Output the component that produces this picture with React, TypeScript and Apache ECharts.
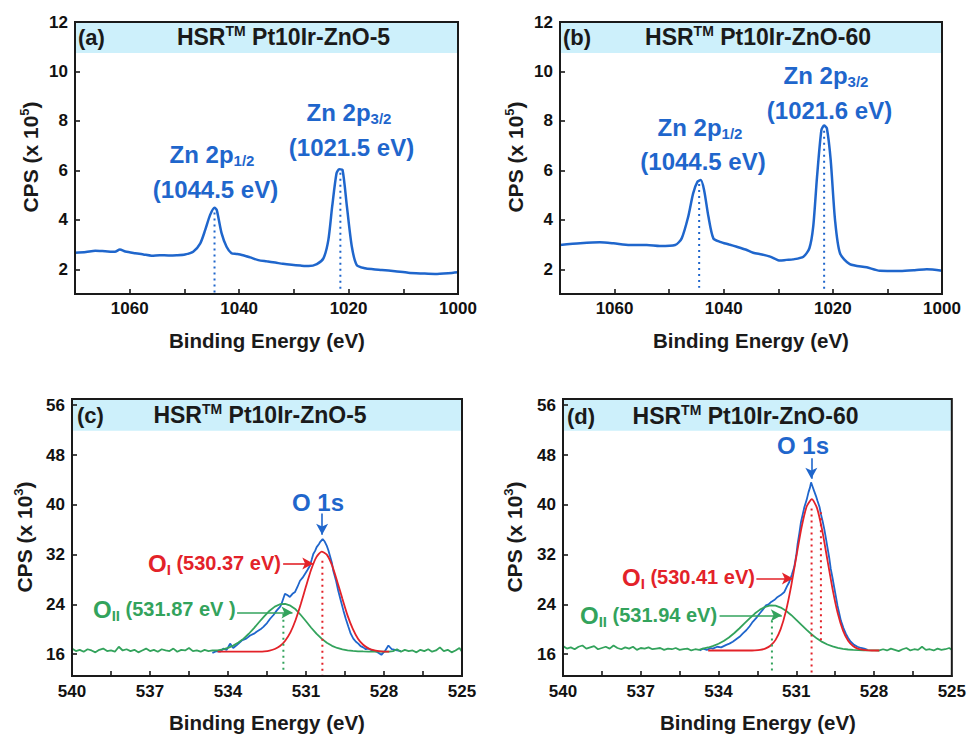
import React, { useEffect, useRef } from 'react';
import * as echarts from 'echarts';

const FONT = "'Liberation Sans', Arial, Helvetica, sans-serif";
const BLUE = '#1f66cc';
const RED = '#e32229';
const GREEN = '#33a35c';
const BAND = '#cdf0fb';
const INK = '#1a1a1a';

// ---------- tick values ----------
const ZN_X_TICKS = [1010, 1020, 1030, 1040, 1050, 1060];
const ZN_X_LABELS = [1000, 1020, 1040, 1060];
const ZN_Y_TICKS = [2, 4, 6, 8, 10, 12];
const O_X_TICKS = [526.5, 528, 529.5, 531, 532.5, 534, 535.5, 537, 538.5];
const O_X_LABELS = [525, 528, 531, 534, 537, 540];
const O_Y_TICKS = [16, 24, 32, 40, 48, 56];

// ---------- panel (a) Zn 2p, Pt10Ir-ZnO-5 : [eV, CPS x1e5] ----------
const A_DATA = [
  [1070, 2.67], [1068, 2.7], [1066.3, 2.75], [1064.5, 2.73], [1062.7, 2.71], [1061.8, 2.8], [1060.8, 2.72],
  [1059, 2.65], [1057.5, 2.6], [1056, 2.55], [1054.5, 2.57], [1052.9, 2.56], [1051.4, 2.57], [1049.9, 2.6],
  [1048.4, 2.71], [1047.1, 3.05], [1046.2, 3.59], [1045.3, 4.2], [1044.5, 4.49], [1044.1, 4.4], [1043.2, 3.45],
  [1042.3, 2.91], [1041.4, 2.65], [1040.5, 2.62], [1039.5, 2.58], [1038, 2.48], [1036.5, 2.37], [1035, 2.32],
  [1033.4, 2.27], [1032, 2.22], [1030.4, 2.18], [1028.8, 2.15], [1027.3, 2.13], [1025.8, 2.21], [1024.6, 2.44],
  [1023.7, 3.18], [1023.0, 4.53], [1022.2, 5.88], [1021.7, 6.05], [1021.1, 6.01], [1020.3, 4.53], [1019.4, 2.91],
  [1018.5, 2.17], [1017, 2.04], [1015.5, 2.0], [1013.9, 1.97], [1011.5, 1.92], [1009.1, 1.86], [1006.5, 1.83],
  [1004.2, 1.81], [1001.8, 1.84], [1000, 1.88],
];
const A_PEAK_LINES = [
  [[1044.5, 4.3], [1044.5, 1.05]],
  [[1021.5, 5.9], [1021.5, 1.05]],
];

// ---------- panel (b) Zn 2p, Pt10Ir-ZnO-60 ----------
const B_DATA = [
  [1070, 2.98], [1066.3, 3.05], [1062.7, 3.09], [1060.2, 3.05], [1057.2, 2.98], [1054.1, 2.98], [1051.7, 2.94],
  [1048.9, 2.98], [1047.7, 3.25], [1046.5, 4.13], [1045.6, 5.07], [1044.8, 5.54], [1044.2, 5.61], [1043.6, 5.21],
  [1042.8, 4.13], [1041.9, 3.25], [1040.7, 3.11], [1039, 3.0], [1037.6, 2.91], [1036, 2.8], [1034.6, 2.67],
  [1033, 2.6], [1031.5, 2.51], [1029.7, 2.35], [1028.5, 2.38], [1027.3, 2.4], [1025.4, 2.51], [1024.3, 2.85],
  [1023.6, 3.72], [1022.9, 5.74], [1022.1, 7.63], [1021.6, 7.81], [1021.1, 7.7], [1020.4, 6.42], [1019.6, 3.99],
  [1018.7, 2.65], [1016.9, 2.21], [1013.8, 2.08], [1011.4, 1.94], [1007.7, 1.93], [1005, 1.96], [1002.8, 2.0],
  [1000, 1.94],
];
const B_PEAK_LINES = [
  [[1044.5, 5.45], [1044.5, 1.25]],
  [[1021.6, 7.6], [1021.6, 1.05]],
];

// ---------- O 1s energy grids ----------
const NOISE_L_E = [
  540.0, 539.85, 539.7, 539.55, 539.4, 539.25, 539.1, 538.95, 538.8, 538.65, 538.5, 538.35, 538.2, 538.05,
  537.9, 537.75, 537.6, 537.45, 537.3, 537.15, 537.0, 536.85, 536.7, 536.55, 536.4, 536.25, 536.1, 535.95,
  535.8, 535.65, 535.5, 535.35, 535.2, 535.05, 534.9, 534.75, 534.6,
];
const FIT_E = [
  534.4, 534.2, 534.0, 533.8, 533.6, 533.4, 533.2, 533.0, 532.8, 532.6, 532.4, 532.2, 532.0, 531.8, 531.6,
  531.4, 531.2, 531.0, 530.8, 530.6, 530.4, 530.2, 530.0, 529.8, 529.6, 529.4, 529.2, 529.0, 528.8, 528.6,
  528.4, 528.2, 528.0, 527.8,
];
const NOISE_R_E = [
  527.65, 527.5, 527.35, 527.2, 527.05, 526.9, 526.75, 526.6, 526.45, 526.3, 526.15, 526.0, 525.85, 525.7,
  525.55, 525.4, 525.25, 525.1, 525.0,
];

// ---------- panel (c) O 1s, Pt10Ir-ZnO-5 : CPS x1e3 ----------
const C_GREEN_L = [
  16.9, 16.5, 16.7, 16.4, 16.8, 16.6, 16.3, 16.7, 16.9, 16.5, 16.6, 16.4, 17.2, 16.6, 16.8, 16.5, 16.7, 16.3,
  16.6, 16.9, 16.5, 16.7, 16.4, 16.8, 16.6, 16.5, 16.9, 16.4, 16.7, 16.6, 17.0, 16.5, 16.6, 16.4, 16.7, 16.5, 16.6,
];
const C_GREEN_FIT = [
  16.62, 16.78, 17.02, 17.38, 17.87, 18.5, 19.29, 20.2, 21.17, 22.13, 22.99, 23.65, 24.03, 24.08, 23.8,
  23.22, 22.3, 21.3, 20.25, 19.3, 18.5, 17.85, 17.35, 17.0, 16.78, 16.63, 16.53, 16.47, 16.44, 16.42,
  16.4, 16.4, 16.4, 16.4,
];
const C_GREEN_R = [
  16.5, 16.8, 16.4, 16.7, 16.5, 16.6, 16.3, 16.7, 16.5, 16.8, 16.4, 16.6, 17.1, 16.5, 16.7, 16.3, 16.6, 17.0, 16.4,
];
const C_RED_FIT = [
  16.4, 16.4, 16.4, 16.4, 16.4, 16.4, 16.4, 16.41, 16.42, 16.47, 16.59, 16.83, 17.31, 18.17, 19.5,
  21.5, 24.05, 26.9, 29.6, 31.6, 32.48, 32.0, 30.3, 27.7, 24.9, 22.2, 20.07, 18.5, 17.52, 16.94,
  16.64, 16.5, 16.43, 16.4,
];
const C_BLUE = [
  [534.6, 16.2], [534.45, 16.5], [534.3, 16.4], [534.18, 16.9], [534.05, 16.7], [533.92, 17.7], [533.8, 17.0],
  [533.65, 17.5], [533.47, 18.2], [533.3, 18.5], [533.15, 19.0], [533.0, 19.3], [532.9, 19.6], [532.75, 20.0],
  [532.64, 20.4], [532.5, 21.0], [532.38, 21.7], [532.25, 22.3], [532.13, 23.0], [532.0, 23.6], [531.94, 24.1],
  [531.81, 25.7], [531.72, 25.5], [531.62, 25.2], [531.52, 25.7], [531.42, 26.0], [531.33, 26.8], [531.23, 27.8],
  [531.13, 28.3], [531.04, 28.9], [530.95, 29.5], [530.85, 30.2], [530.78, 31.2], [530.72, 32.1], [530.65, 32.6],
  [530.59, 33.2], [530.5, 33.7], [530.46, 34.0], [530.36, 34.5], [530.28, 34.1], [530.2, 33.4], [530.14, 32.7],
  [530.08, 31.8], [530.0, 30.6], [529.95, 29.4], [529.85, 27.9], [529.76, 26.2], [529.66, 24.6], [529.56, 23.0],
  [529.47, 21.7], [529.37, 20.4], [529.28, 19.3], [529.18, 18.5], [529.08, 18.0], [528.99, 17.7], [528.9, 17.3],
  [528.8, 17.1], [528.7, 16.8], [528.6, 16.9], [528.45, 16.6], [528.28, 16.4], [528.1, 15.9], [527.95, 16.6],
  [527.83, 17.4], [527.7, 16.8], [527.5, 16.6], [527.35, 16.5],
];
const C_RED_DOT = [[530.37, 31.0], [530.37, 12.6]];
const C_GREEN_DOT = [[531.87, 22.5], [531.87, 13.1]];

// ---------- panel (d) O 1s, Pt10Ir-ZnO-60 ----------
const D_GREEN_L = [
  17.3, 16.9, 17.1, 16.8, 17.2, 17.4, 16.9, 17.1, 17.3, 16.8, 17.0, 17.2, 16.9, 17.4, 17.0, 16.8, 17.1, 16.9,
  17.2, 16.7, 17.0, 16.9, 17.1, 16.8, 16.9, 17.0, 16.7, 16.9, 16.8, 17.0, 16.7, 16.8, 16.9, 16.6, 16.8, 16.7, 16.9,
];
const D_GREEN_FIT = [
  17.08, 17.33, 17.68, 18.13, 18.69, 19.37, 20.13, 20.95, 21.77, 22.53, 23.16, 23.61, 23.83, 23.79, 23.5,
  22.99, 22.31, 21.53, 20.71, 19.9, 19.16, 18.51, 17.98, 17.56, 17.25, 17.02, 16.86, 16.76, 16.7, 16.66,
  16.63, 16.62, 16.61, 16.6,
];
const D_GREEN_R = [
  16.8, 16.6, 16.9, 16.7, 16.5, 16.8, 17.0, 16.6, 16.8, 16.7, 17.2, 16.7, 16.8, 16.6, 16.9, 16.7, 16.8, 17.0, 16.7,
];
const D_RED_FIT = [
  16.6, 16.6, 16.6, 16.6, 16.6, 16.6, 16.6, 16.6, 16.6, 16.63, 16.7, 16.9, 17.35, 18.3, 20.07,
  22.92, 26.9, 31.66, 36.31, 39.72, 40.9, 39.47, 35.89, 31.16, 26.46, 22.57, 19.84, 18.18, 17.29, 16.87,
  16.69, 16.63, 16.6, 16.6,
];
const D_BLUE = [
  [534.73, 16.6], [534.6, 16.9], [534.45, 16.7], [534.3, 17.0], [534.22, 16.9], [534.05, 17.2], [533.9, 17.1],
  [533.7, 17.5], [533.58, 17.7], [533.45, 18.0], [533.32, 18.4], [533.19, 18.8], [533.05, 19.4], [532.93, 19.85],
  [532.8, 20.5], [532.68, 21.2], [532.55, 21.8], [532.42, 22.5], [532.3, 23.1], [532.17, 23.85], [532.07, 24.0],
  [531.97, 24.4], [531.85, 24.7], [531.72, 25.2], [531.6, 25.5], [531.46, 26.0], [531.36, 26.9], [531.27, 27.6],
  [531.17, 28.8], [531.08, 30.0], [531.0, 31.9], [530.95, 33.7], [530.88, 35.5], [530.82, 37.2], [530.75, 38.5],
  [530.69, 39.6], [530.6, 40.8], [530.53, 42.0], [530.47, 42.8], [530.43, 43.6], [530.37, 42.9], [530.31, 42.2],
  [530.24, 41.4], [530.18, 40.6], [530.1, 39.6], [530.05, 38.5], [529.98, 37.3], [529.92, 36.1], [529.86, 34.7],
  [529.8, 33.2], [529.73, 31.5], [529.67, 29.7], [529.6, 28.2], [529.54, 26.8], [529.47, 25.2], [529.41, 23.8],
  [529.34, 22.5], [529.28, 21.4], [529.18, 20.2], [529.09, 19.3], [529.0, 18.6], [528.9, 18.0], [528.77, 17.5],
  [528.64, 17.2], [528.5, 17.0], [528.38, 16.9], [528.25, 16.7],
];
const D_RED_DOT = [[530.41, 39.4], [530.41, 12.6]];
const D_RED_DOT2 = [[530.05, 38.8], [530.05, 18.2]];
const D_GREEN_DOT = [[531.94, 21.4], [531.94, 13.2]];

const zip = (xs: number[], ys: number[]) => xs.map((x, i) => [x, ys[i]]);
const plain = (v: number) => String(v);

function makeX(gi: number, min: number, max: number, ticks: number[], labels: number[], margin: number) {
  return {
    type: 'value', gridIndex: gi, min, max, inverse: true, z: 5,
    axisLine: { show: true, onZero: false, lineStyle: { color: INK, width: 2 } },
    axisTick: { show: true, inside: true, length: 5, lineStyle: { color: INK, width: 1.6 }, customValues: ticks },
    axisLabel: {
      customValues: labels, formatter: plain, fontSize: 17, fontWeight: 'bold', color: '#111', fontFamily: FONT, margin,
    },
    splitLine: { show: false },
  };
}
function makeY(gi: number, min: number, max: number, ticks: number[]) {
  return {
    type: 'value', gridIndex: gi, min, max, z: 5,
    axisLine: { show: true, onZero: false, lineStyle: { color: INK, width: 2 } },
    axisTick: { show: true, inside: true, length: 5, lineStyle: { color: INK, width: 1.6 }, customValues: ticks },
    axisLabel: {
      customValues: ticks, formatter: plain, fontSize: 17, fontWeight: 'bold', color: '#111', fontFamily: FONT, margin: 7,
    },
    splitLine: { show: false },
  };
}
function lineSeries(gi: number, data: any, color: string, width: number, extra: any = {}) {
  return {
    type: 'line', xAxisIndex: gi, yAxisIndex: gi, data, symbol: 'none', silent: true,
    lineStyle: { color, width }, ...extra,
  };
}
function dotted(gi: number, data: any, color: string) {
  return lineSeries(gi, data, color, 2, { lineStyle: { color, width: 2, type: [2, 4] }, z: 3 });
}
function band(x0: number, x1: number, y0: number, y1: number) {
  return {
    silent: true, itemStyle: { color: BAND, borderWidth: 0 },
    data: [[{ xAxis: x0, yAxis: y0 }, { xAxis: x1, yAxis: y1 }]],
  };
}
function arrow(color: string, from: number[], to: number[]) {
  return {
    silent: true, symbol: ['none', 'arrow'], symbolSize: [9, 11], animation: false,
    lineStyle: { color, width: 1.6, type: 'solid' }, label: { show: false },
    data: [[{ coord: from }, { coord: to }]],
  };
}

function txt(x: number, y: number, text: string, size: number, fill: string, align = 'center', rich: any = undefined, rotation = 0) {
  return {
    type: 'text', x, y, rotation, z: 20, silent: true,
    style: {
      text, fill, fontSize: size, fontWeight: 'bold', fontFamily: FONT, align, verticalAlign: 'middle',
      lineHeight: size + 4, rich,
    },
  };
}
const supRich = (fill: string, size: number) => ({ sup: { fontSize: size, fontWeight: 'bold', fontFamily: FONT, fill, verticalAlign: 'top', lineHeight: size } });
const subRich = (fill: string, size: number) => ({ sub: { fontSize: size, fontWeight: 'bold', fontFamily: FONT, fill, verticalAlign: 'bottom', lineHeight: size } });
function oLabel(x: number, y: number, sub: string, rest: string, fill: string) {
  return txt(x, y, `{o|O}{sub|${sub}}{p|${rest}}`, 20, fill, 'left', {
    o: { fontSize: 24, fontWeight: 'bold', fontFamily: FONT, fill, lineHeight: 28 },
    sub: { fontSize: 15, fontWeight: 'bold', fontFamily: FONT, fill, verticalAlign: 'bottom', lineHeight: 15 },
    p: { fontSize: 20, fontWeight: 'bold', fontFamily: FONT, fill, lineHeight: 28 },
  });
}

function buildOption(): any {
  const gridBase = { show: true, borderColor: INK, borderWidth: 2, z: 10, backgroundColor: 'transparent' };
  const graphic = [
    // (a)
    txt(78, 37, '(a)', 22, INK, 'left'),
    txt(283.5, 37, 'HSR{sup|TM} Pt10Ir-ZnO-5', 23, INK, 'center', supRich(INK, 14)),
    txt(212, 154, 'Zn 2p{sub|1/2}', 24, BLUE, 'center', subRich(BLUE, 15)),
    txt(215.5, 189, '(1044.5 eV)', 24, BLUE),
    txt(349, 112, 'Zn 2p{sub|3/2}', 24, BLUE, 'center', subRich(BLUE, 15)),
    txt(351.5, 147, '(1021.5 eV)', 24, BLUE),
    txt(267, 340, 'Binding Energy (eV)', 20.5, INK),
    txt(30, 157, 'CPS (x 10{sup|5})', 21, INK, 'center', supRich(INK, 13), Math.PI / 2),
    // (b)
    txt(563, 37, '(b)', 22, INK, 'left'),
    txt(758, 37, 'HSR{sup|TM} Pt10Ir-ZnO-60', 23, INK, 'center', supRich(INK, 14)),
    txt(700, 127, 'Zn 2p{sub|1/2}', 24, BLUE, 'center', subRich(BLUE, 15)),
    txt(703, 161, '(1044.5 eV)', 24, BLUE),
    txt(826, 75, 'Zn 2p{sub|3/2}', 24, BLUE, 'center', subRich(BLUE, 15)),
    txt(829.5, 110, '(1021.6 eV)', 24, BLUE),
    txt(751, 340, 'Binding Energy (eV)', 20.5, INK),
    txt(515, 157, 'CPS (x 10{sup|5})', 21, INK, 'center', supRich(INK, 13), Math.PI / 2),
    // (c)
    txt(77, 415, '(c)', 22, INK, 'left'),
    txt(260, 415, 'HSR{sup|TM} Pt10Ir-ZnO-5', 23, INK, 'center', supRich(INK, 14)),
    txt(318, 502, 'O 1s', 24, BLUE),
    oLabel(148, 563, 'I', ' (530.37 eV)', RED),
    oLabel(93, 609, 'II', ' (531.87 eV )', GREEN),
    txt(267, 722, 'Binding Energy (eV)', 20.5, INK),
    txt(24, 537, 'CPS (x 10{sup|3})', 21, INK, 'center', supRich(INK, 13), Math.PI / 2),
    // (d)
    txt(567, 416, '(d)', 22, INK, 'left'),
    txt(745.5, 416, 'HSR{sup|TM} Pt10Ir-ZnO-60', 23, INK, 'center', supRich(INK, 14)),
    txt(803, 445, 'O 1s', 24, BLUE),
    oLabel(622, 577, 'I', ' (530.41 eV)', RED),
    oLabel(580, 615, 'II', ' (531.94 eV)', GREEN),
    txt(758, 722, 'Binding Energy (eV)', 20.5, INK),
    txt(514, 537, 'CPS (x 10{sup|3})', 21, INK, 'center', supRich(INK, 13), Math.PI / 2),
  ];

  const cGreen = [...zip(NOISE_L_E, C_GREEN_L), ...zip(FIT_E, C_GREEN_FIT), ...zip(NOISE_R_E, C_GREEN_R)];
  const dGreen = [...zip(NOISE_L_E, D_GREEN_L), ...zip(FIT_E, D_GREEN_FIT), ...zip(NOISE_R_E, D_GREEN_R)];

  return {
    animation: false,
    backgroundColor: '#ffffff',
    grid: [
      { ...gridBase, left: 75, top: 22, width: 383, height: 272 },
      { ...gridBase, left: 560, top: 22, width: 382, height: 272 },
      { ...gridBase, left: 72, top: 399, width: 390, height: 277 },
      { ...gridBase, left: 563, top: 399, width: 390, height: 277 },
    ],
    xAxis: [
      makeX(0, 1000, 1070, ZN_X_TICKS, ZN_X_LABELS, 6),
      makeX(1, 1000, 1070, ZN_X_TICKS, ZN_X_LABELS, 6),
      makeX(2, 525, 540, O_X_TICKS, O_X_LABELS, 7),
      makeX(3, 525, 540, O_X_TICKS, O_X_LABELS, 7),
    ],
    yAxis: [
      makeY(0, 1, 12, ZN_Y_TICKS),
      makeY(1, 1, 12, ZN_Y_TICKS),
      makeY(2, 12.5, 57, O_Y_TICKS),
      makeY(3, 12.5, 57, O_Y_TICKS),
    ],
    graphic,
    series: [
      // (a)
      lineSeries(0, A_DATA, BLUE, 2.5, { smooth: 0.25, markArea: band(1070, 1000, 10.75, 12) }),
      dotted(0, A_PEAK_LINES[0], BLUE),
      dotted(0, A_PEAK_LINES[1], BLUE),
      // (b)
      lineSeries(1, B_DATA, BLUE, 2.5, { smooth: 0.25, markArea: band(1070, 1000, 10.75, 12) }),
      dotted(1, B_PEAK_LINES[0], BLUE),
      dotted(1, B_PEAK_LINES[1], BLUE),
      // (c)
      lineSeries(2, C_BLUE, BLUE, 1.8, {
        markArea: band(540, 525, 51.9, 57),
        markLine: arrow(BLUE, [530.38, 38.6], [530.38, 35.2]),
      }),
      lineSeries(2, cGreen, GREEN, 1.8, { markLine: arrow(GREEN, [533.65, 22.72], [531.52, 22.72]) }),
      lineSeries(2, zip(FIT_E, C_RED_FIT), RED, 1.8, { smooth: 0.2, markLine: arrow(RED, [531.88, 30.56], [530.72, 30.56]) }),
      dotted(2, C_RED_DOT, RED),
      dotted(2, C_GREEN_DOT, GREEN),
      // (d)
      lineSeries(3, D_BLUE, BLUE, 1.8, {
        markArea: band(540, 525, 51.9, 57),
        markLine: arrow(BLUE, [530.42, 47.5], [530.42, 44.2]),
      }),
      lineSeries(3, dGreen, GREEN, 1.8, { markLine: arrow(GREEN, [533.96, 22.24], [531.56, 22.24]) }),
      lineSeries(3, zip(FIT_E, D_RED_FIT), RED, 1.8, { smooth: 0.2, markLine: arrow(RED, [532.54, 28.16], [531.13, 28.16]) }),
      dotted(3, D_RED_DOT, RED),
      dotted(3, D_RED_DOT2, RED),
      dotted(3, D_GREEN_DOT, GREEN),
    ],
  };
}

export default function App() {
  const ref = useRef<HTMLDivElement>(null);
  useEffect(() => {
    const chart = echarts.init(ref.current!, null, { renderer: 'svg' });
    chart.setOption(buildOption());
    return () => chart.dispose();
  }, []);
  return (
    <div
      ref={ref}
      style={{ position: 'fixed', left: 0, top: 0, width: 969, height: 734, background: '#ffffff' }}
    />
  );
}
